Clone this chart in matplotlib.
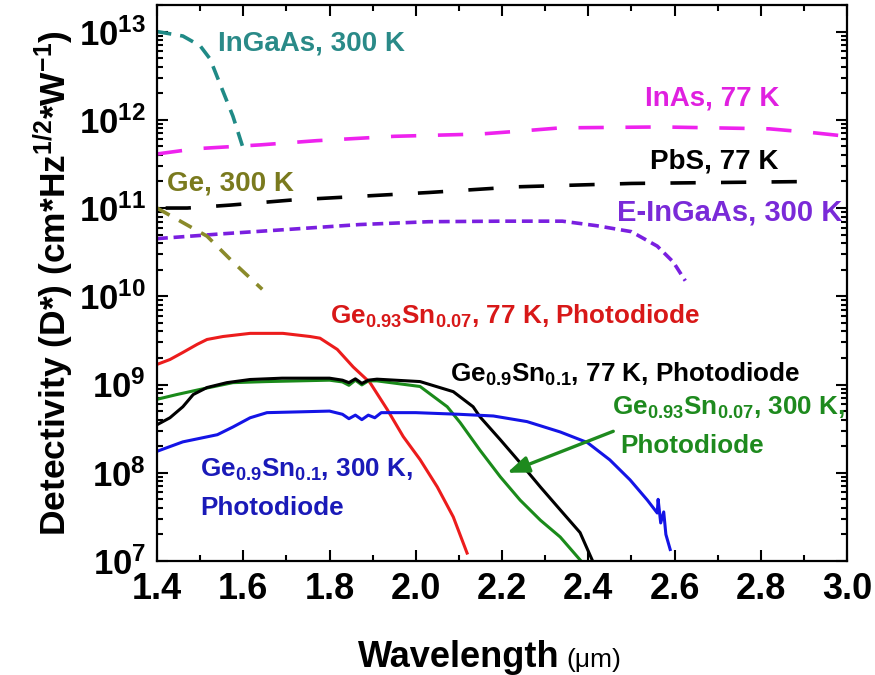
import matplotlib
matplotlib.use("Agg")
import matplotlib.pyplot as plt
from matplotlib.ticker import LogLocator, MultipleLocator, LogFormatterMathtext, FormatStrFormatter

plt.rcParams['font.family'] = ['Liberation Sans', 'DejaVu Sans']
plt.rcParams['mathtext.fontset'] = 'custom'
plt.rcParams['mathtext.rm'] = 'Liberation Sans'
plt.rcParams['mathtext.bf'] = 'Liberation Sans:bold'
plt.rcParams['mathtext.it'] = 'Liberation Sans:italic'
plt.rcParams['mathtext.default'] = 'bf'

# ---- reference detectors (dashed) ----
ingaas_wl = [1.40, 1.46, 1.50, 1.523, 1.553, 1.576, 1.604]
ingaas_d = [1.0e13, 8.9e12, 6.9e12, 4.9e12, 2.1e12, 1.1e12, 4.1e11]

inas_wl = [1.40, 1.49, 1.64, 1.77, 1.95, 2.15, 2.25, 2.335, 2.57, 2.82, 2.915, 3.0]
inas_d = [4.1e11, 4.7e11, 5.2e11, 5.8e11, 6.5e11, 6.9e11, 7.5e11, 8.1e11, 8.3e11, 7.9e11, 7.2e11, 6.5e11]

pbs_wl = [1.42, 1.47, 1.57, 1.71, 2.03, 2.235, 2.50, 2.92]
pbs_d = [1.0e11, 1.0e11, 1.08e11, 1.23e11, 1.5e11, 1.74e11, 1.9e11, 2.0e11]

eingaas_wl = [1.40, 1.55, 1.71, 1.87, 2.03, 2.20, 2.34, 2.42, 2.50, 2.56, 2.597, 2.625]
eingaas_d = [4.5e10, 5.1e10, 5.75e10, 6.5e10, 7.0e10, 7.1e10, 7.1e10, 6.3e10, 5.4e10, 3.7e10, 2.45e10, 1.5e10]

ge_wl = [1.40, 1.516, 1.576, 1.644]
ge_d = [1.0e11, 4.8e10, 2.45e10, 1.2e10]

# ---- GeSn photodiodes (solid) ----
gesn7_77_wl = [1.40, 1.43, 1.46, 1.493, 1.516, 1.553, 1.616, 1.692, 1.755, 1.778,
               1.818, 1.855, 1.894, 1.934, 1.971, 2.01, 2.05, 2.087, 2.119]
gesn7_77_d = [1.69e9, 1.92e9, 2.31e9, 2.85e9, 3.24e9, 3.5e9, 3.8e9, 3.8e9, 3.5e9, 3.35e9,
              2.5e9, 1.58e9, 1.05e9, 5.2e8, 2.57e8, 1.41e8, 6.9e7, 3.16e7, 1.23e7]

gesn10_77_wl = [1.40, 1.43, 1.46, 1.484, 1.516, 1.562, 1.616, 1.69, 1.80, 1.83, 1.845,
                1.86, 1.875, 1.89, 1.91, 2.01, 2.087, 2.133, 2.149, 2.196, 2.242,
                2.289, 2.335, 2.381, 2.409]
gesn10_77_d = [3.5e8, 4.2e8, 5.6e8, 7.7e8, 9.25e8, 1.05e9, 1.14e9, 1.18e9, 1.18e9, 1.12e9, 1.05e9,
               1.16e9, 1.03e9, 1.12e9, 1.15e9, 1.08e9, 8.3e8, 5.6e8, 4.3e8, 2.37e8, 1.3e8,
               6.9e7, 3.8e7, 2.1e7, 1.03e7]

gesn7_300_wl = [1.40, 1.446, 1.50, 1.576, 1.655, 1.80, 1.83, 1.845, 1.86, 1.875, 1.89,
                1.91, 2.01, 2.073, 2.103, 2.149, 2.196, 2.242, 2.289, 2.335, 2.381]
gesn7_300_d = [6.8e8, 7.7e8, 8.8e8, 1.05e9, 1.08e9, 1.12e9, 1.07e9, 9.8e8, 1.12e9, 9.9e8, 1.1e9,
               1.1e9, 9.5e8, 5.6e8, 3.7e8, 1.8e8, 9.0e7, 4.9e7, 2.9e7, 1.87e7, 1.03e7]

gesn10_300_wl = [1.40, 1.46, 1.54, 1.576, 1.616, 1.655, 1.73, 1.80, 1.83, 1.845, 1.86, 1.875,
                 1.89, 1.905, 1.92, 2.00, 2.10, 2.18, 2.258, 2.335, 2.398, 2.45, 2.497,
                 2.537, 2.56, 2.562, 2.568, 2.575, 2.58, 2.59]
gesn10_300_d = [1.75e8, 2.24e8, 2.7e8, 3.3e8, 4.2e8, 4.8e8, 4.9e8, 5.0e8, 4.6e8, 4.1e8, 4.5e8, 4.0e8,
                4.5e8, 4.2e8, 4.8e8, 4.8e8, 4.6e8, 4.4e8, 3.8e8, 2.9e8, 2.2e8, 1.4e8, 8.3e7,
                4.9e7, 3.5e7, 5.0e7, 2.7e7, 3.6e7, 2.0e7, 1.35e7]

fig = plt.figure(figsize=(8.75, 6.75), dpi=100)
ax = fig.add_axes([157 / 875, 1 - 561 / 675, 690 / 875, 556 / 675])

ax.plot(ingaas_wl, ingaas_d, color='#1f8a86', lw=2.6, dashes=(4, 2.5))
ax.plot(inas_wl, inas_d, color='#ee22ee', lw=2.6, dashes=(7, 6))
ax.plot(pbs_wl, pbs_d, color='black', lw=2.6, dashes=(7, 7))
ax.plot(eingaas_wl, eingaas_d, color='#7a1fe0', lw=2.6, dashes=(3, 1.6))
ax.plot(ge_wl, ge_d, color='#8a8a2a', lw=2.6, dashes=(4, 3))

ax.plot(gesn7_77_wl, gesn7_77_d, color='#ec1c1c', lw=2.2)
ax.plot(gesn7_300_wl, gesn7_300_d, color='#1a8a1a', lw=2.2)
ax.plot(gesn10_77_wl, gesn10_77_d, color='black', lw=2.2)
ax.plot(gesn10_300_wl, gesn10_300_d, color='#1414e6', lw=2.2)

ax.set_yscale('log')
ax.set_xlim(1.4, 3.0)
ax.set_ylim(1e7, 2e13)

ax.xaxis.set_major_locator(MultipleLocator(0.2))
ax.xaxis.set_minor_locator(MultipleLocator(0.1))
ax.xaxis.set_major_formatter(FormatStrFormatter('%.1f'))
ax.yaxis.set_major_locator(LogLocator(base=10, numticks=20))
ax.yaxis.set_minor_locator(LogLocator(base=10, subs=range(2, 10), numticks=20))
ax.yaxis.set_major_formatter(LogFormatterMathtext())

ax.tick_params(which='both', direction='in', top=True, right=True, width=1.5)
ax.tick_params(which='major', length=8)
ax.tick_params(which='minor', length=4)
ax.tick_params(axis='x', pad=8, labelsize=26)
ax.tick_params(axis='y', pad=8, labelsize=25)
for t in ax.get_xticklabels() + ax.get_yticklabels():
    t.set_fontweight('bold')
for s in ax.spines.values():
    s.set_linewidth(1.6)

ax.set_ylabel(r'Detectivity (D*) (cm*Hz$^{1/2}$*W$^{-1}$)', fontsize=25.5,
              fontweight='bold', labelpad=2)

fig.text(560 / 875, 1 - 667 / 675, 'Wavelength', fontsize=26, fontweight='bold',
         ha='right', va='baseline')
fig.text(566 / 875, 1 - 667 / 675, '(\u03bcm)', fontsize=19,
         ha='left', va='baseline')

fs = 20
fs_sn = 18.8
ax.text(1.5415, 10**12.86, 'InGaAs, 300 K', color='#2a8a88', fontsize=fs,
        fontweight='bold', va='center')
ax.text(2.532, 10**12.24, 'InAs, 77 K', color='#e020e0', fontsize=fs,
        fontweight='bold', va='center')
ax.text(2.544, 10**11.53, 'PbS, 77 K', color='black', fontsize=fs,
        fontweight='bold', va='center')
ax.text(2.467, 10**10.95, 'E-InGaAs, 300 K', color='#7a2ad8', fontsize=21,
        fontweight='bold', va='center')
ax.text(1.423, 10**11.28, 'Ge, 300 K', color='#7a7a1e', fontsize=fs,
        fontweight='bold', va='center')
ax.text(1.80, 10**9.77, r'Ge$_{0.93}$Sn$_{0.07}$, 77 K, Photodiode', color='#d81818',
        fontsize=fs_sn, fontweight='bold', va='center')
ax.text(2.08, 10**9.11, r'Ge$_{0.9}$Sn$_{0.1}$, 77 K, Photodiode', color='black',
        fontsize=fs_sn, fontweight='bold', va='center')
ax.text(2.456, 10**8.74, r'Ge$_{0.93}$Sn$_{0.07}$, 300 K,', color='#1e8a1e',
        fontsize=fs_sn, fontweight='bold', va='center')
ax.text(2.474, 10**8.30, 'Photodiode', color='#1e8a1e',
        fontsize=fs_sn, fontweight='bold', va='center')
ax.text(1.50, 10**8.03, r'Ge$_{0.9}$Sn$_{0.1}$, 300 K,', color='#1a1ab8',
        fontsize=fs_sn, fontweight='bold', va='center')
ax.text(1.50, 10**7.60, 'Photodiode', color='#1a1ab8',
        fontsize=fs_sn, fontweight='bold', va='center')

ax.annotate('', xy=(2.212, 10**8.0), xytext=(2.458, 10**8.47),
            arrowprops=dict(arrowstyle='-|>,head_length=1.3,head_width=0.5',
                            color='#1e8a1e', lw=2.4, shrinkA=0, shrinkB=0))

fig.savefig('out.png', dpi=100)
